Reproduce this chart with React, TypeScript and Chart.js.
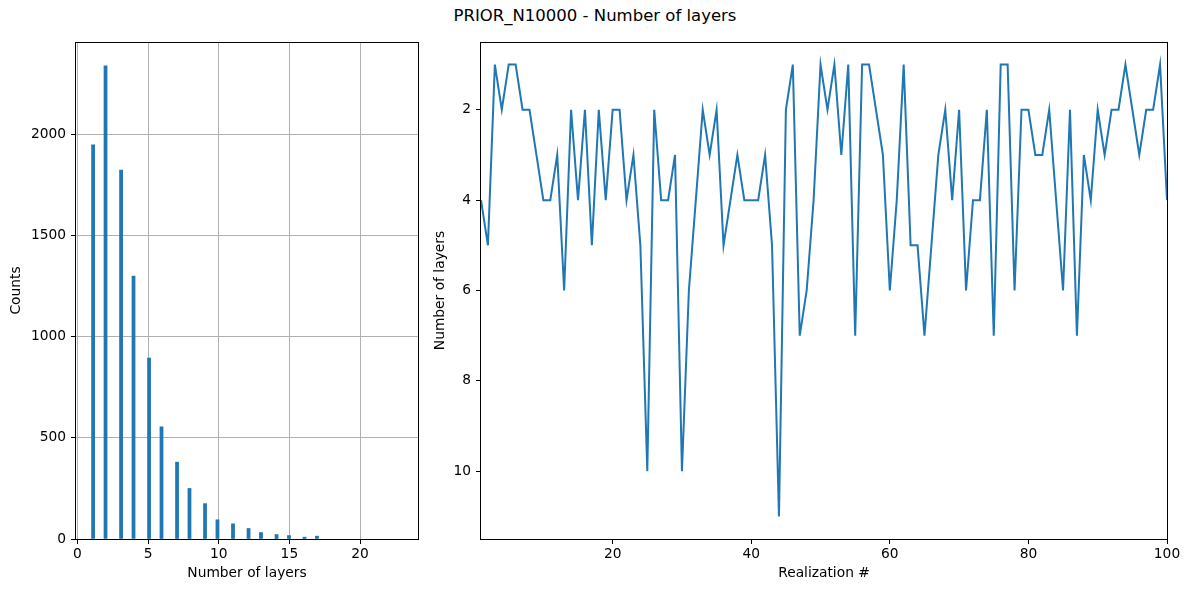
import React, { useEffect, useRef } from "react";
import { Chart, registerables } from "chart.js";

Chart.register(...registerables);

const FIG_TITLE = "PRIOR_N10000 - Number of layers";

// Histogram data (number of layers -> counts); bins span the full layer range
const layerValues = [1, 2, 3, 4, 5, 6, 7, 8, 9, 10, 11, 12, 13, 14, 15, 16, 17, 18, 19, 20, 21, 22, 23];
const layerCounts = [1950, 2340, 1825, 1300, 895, 555, 380, 250, 175, 95, 75, 52, 32, 22, 17, 9, 14, 0, 0, 0, 0, 0, 0];
const NUM_BINS = 100;
const histTicksX = [0, 5, 10, 15, 20];
const histTicksY = [0, 500, 1000, 1500, 2000];

// Line data (realization # -> number of layers)
const realizationLayers = [
  4, 5, 1, 2, 1, 1, 2, 2, 3, 4,
  4, 3, 6, 2, 4, 2, 5, 2, 4, 2,
  2, 4, 3, 5, 10, 2, 4, 4, 3, 10,
  6, 4, 2, 3, 2, 5, 4, 3, 4, 4,
  4, 3, 5, 11, 2, 1, 7, 6, 4, 1,
  2, 1, 3, 1, 7, 1, 1, 2, 3, 6,
  4, 1, 5, 5, 7, 5, 3, 2, 4, 2,
  6, 4, 4, 2, 7, 1, 1, 6, 2, 2,
  3, 3, 2, 4, 6, 2, 7, 3, 4, 2,
  3, 2, 2, 1, 2, 3, 2, 2, 1, 4,
];
const lineTicksX = [20, 40, 60, 80, 100];
const lineTicksY = [2, 4, 6, 8, 10];

const BLUE = "#1f77b4";
const FONT = "'DejaVu Sans', 'Liberation Sans', sans-serif";
const FS = 13.8;

const framePlugin = {
  id: "frame",
  afterDraw(chart: any) {
    const { ctx, chartArea: a } = chart;
    ctx.save();
    ctx.strokeStyle = "#000";
    ctx.lineWidth = 1;
    const l = Math.round(a.left) - 0.5;
    const t = Math.round(a.top) + 0.5;
    const r = Math.round(a.right) + 0.5;
    const b = Math.round(a.bottom) + 0.5;
    ctx.strokeRect(l, t, r - l, b - t);
    ctx.restore();
  },
};

// Histogram table: 100 equal bins over the layer range (empty bins kept as null so bar width = bin width)
function buildBins() {
  const lo = layerValues[0];
  const hi = layerValues[layerValues.length - 1];
  const w = (hi - lo) / NUM_BINS;
  const bins: { x: number; y: number | null }[] = Array.from({ length: NUM_BINS }, (_, i) => ({ x: lo + (i + 0.5) * w, y: 0 }));
  layerValues.forEach((v, j) => {
    const idx = Math.min(NUM_BINS - 1, Math.floor((v - lo) / w + 1e-9));
    (bins[idx] as any).y += layerCounts[j];
  });
  bins.forEach((b) => {
    if (!b.y) b.y = null;
  });
  return bins;
}

const tickFont = { family: FONT, size: FS };

export default function App() {
  const leftRef = useRef<HTMLCanvasElement>(null);
  const rightRef = useRef<HTMLCanvasElement>(null);

  useEffect(() => {
    const bins = buildBins();
    const left = new Chart(leftRef.current!, {
      type: "bar",
      data: {
        datasets: [
          {
            data: bins as any,
            backgroundColor: BLUE,
            borderWidth: 0,
            barPercentage: 1,
            categoryPercentage: 1,
          },
        ],
      },
      options: {
        responsive: false,
        animation: false,
        events: [],
        layout: { padding: { left: 0, top: 42, right: 22, bottom: 0 } },
        plugins: { legend: { display: false }, tooltip: { enabled: false } },
        scales: {
          x: {
            type: "linear",
            min: -0.1,
            max: 24.1,
            z: 1,
            offset: false,
            afterBuildTicks: (s: any) => {
              s.ticks = histTicksX.map((v) => ({ value: v }));
            },
            afterFit: (s: any) => {
              s.height = 53;
            },
            ticks: { autoSkip: false, maxRotation: 0, color: "#000", font: tickFont, padding: 2, callback: (v: any) => String(v) },
            grid: { offset: false, color: "#b0b0b0", lineWidth: 1, tickColor: "#000", tickLength: 5, drawTicks: true },
            border: { display: false },
            title: { display: true, text: "Number of layers", color: "#000", font: tickFont, padding: { top: 0, bottom: 10 } },
          },
          y: {
            type: "linear",
            min: 0,
            max: 2458,
            z: 1,
            afterBuildTicks: (s: any) => {
              s.ticks = histTicksY.map((v) => ({ value: v }));
            },
            afterFit: (s: any) => {
              s.width = 76;
            },
            ticks: { autoSkip: false, color: "#000", font: tickFont, padding: 5, callback: (v: any) => String(v) },
            grid: { color: "#b0b0b0", lineWidth: 1, tickColor: "#000", tickLength: 5, drawTicks: true },
            border: { display: false },
            title: { display: true, text: "Counts", color: "#000", font: tickFont, padding: { top: 8, bottom: 0 } },
          },
        },
      },
      plugins: [framePlugin],
    });

    const points = realizationLayers.map((v, i) => ({ x: i + 1, y: v }));
    const right = new Chart(rightRef.current!, {
      type: "line",
      data: {
        datasets: [
          {
            data: points as any,
            borderColor: BLUE,
            borderWidth: 2,
            pointRadius: 0,
            tension: 0,
            fill: false,
          },
        ],
      },
      options: {
        responsive: false,
        animation: false,
        events: [],
        layout: { padding: { left: 0, top: 42, right: 23, bottom: 0 } },
        plugins: { legend: { display: false }, tooltip: { enabled: false } },
        scales: {
          x: {
            type: "linear",
            min: 1,
            max: 100,
            afterBuildTicks: (s: any) => {
              s.ticks = lineTicksX.map((v) => ({ value: v }));
            },
            afterFit: (s: any) => {
              s.height = 53;
            },
            ticks: { autoSkip: false, maxRotation: 0, color: "#000", font: tickFont, padding: 2, callback: (v: any) => String(v) },
            grid: { drawOnChartArea: false, tickColor: "#000", tickLength: 5, drawTicks: true },
            border: { display: false },
            title: { display: true, text: "Realization #", color: "#000", font: tickFont, padding: { top: 0, bottom: 10 } },
          },
          y: {
            type: "linear",
            min: 0.5,
            max: 11.5,
            reverse: true,
            afterBuildTicks: (s: any) => {
              s.ticks = lineTicksY.map((v) => ({ value: v }));
            },
            afterFit: (s: any) => {
              s.width = 56;
            },
            ticks: { autoSkip: false, color: "#000", font: tickFont, padding: 5, callback: (v: any) => String(v) },
            grid: { drawOnChartArea: false, tickColor: "#000", tickLength: 5, drawTicks: true },
            border: { display: false },
            title: { display: true, text: "Number of layers", color: "#000", font: tickFont, padding: { top: 7, bottom: 0 } },
          },
        },
      },
      plugins: [framePlugin],
    });

    return () => {
      left.destroy();
      right.destroy();
    };
  }, []);

  return (
    <div style={{ position: "absolute", left: 0, top: 0, width: 1190, height: 592, background: "#fff", overflow: "hidden" }}>
      <div
        style={{
          position: "absolute",
          left: 0,
          top: 6,
          width: 1190,
          textAlign: "center",
          fontFamily: FONT,
          fontSize: 16.5,
          lineHeight: "20px",
          color: "#000",
        }}
      >
        {FIG_TITLE}
      </div>
      <canvas ref={leftRef} width={440} height={592} style={{ position: "absolute", left: 0, top: 0 }} />
      <canvas ref={rightRef} width={765} height={592} style={{ position: "absolute", left: 425, top: 0 }} />
    </div>
  );
}
